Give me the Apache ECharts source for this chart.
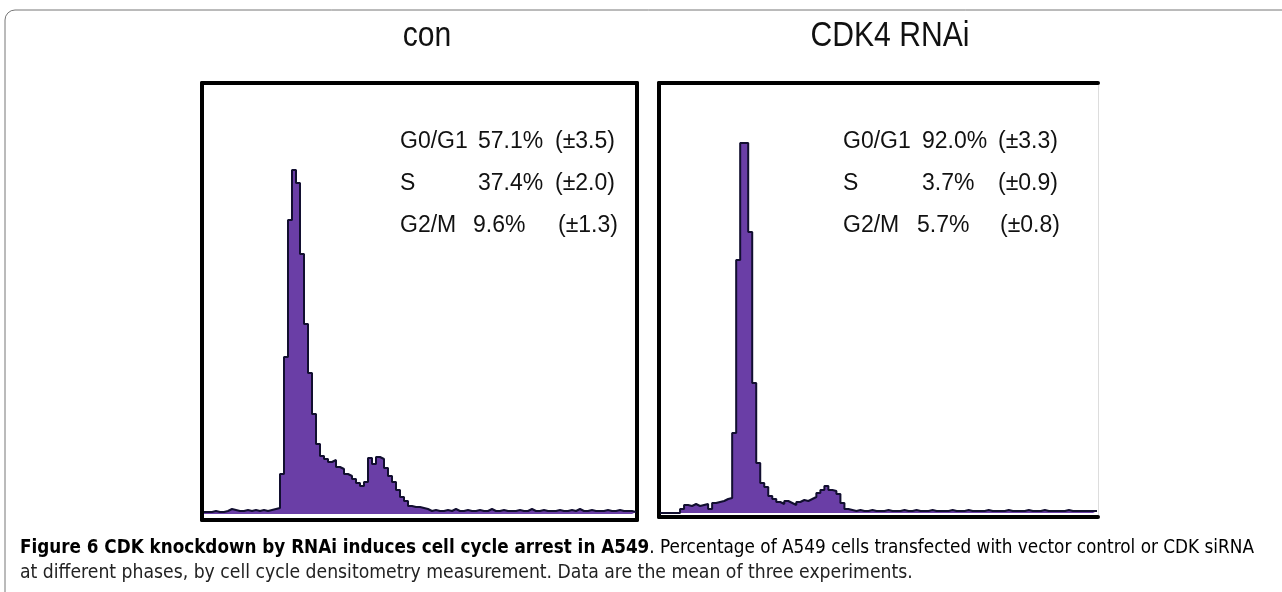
<!DOCTYPE html>
<html>
<head>
<meta charset="utf-8">
<script src="https://cdn.jsdelivr.net/npm/echarts@6/dist/echarts.min.js"></script>
<style>
html,body{margin:0;padding:0;background:#fff;}
#chart{width:1282px;height:592px;}
</style>
</head>
<body>
<div id="chart"></div>
<script>
// ---- data ----
var panelTitles = ['con', 'CDK4 RNAi'];
var phases = ['G0/G1', 'S', 'G2/M'];
var conPct = ['57.1%', '37.4%', '9.6%'];
var conSd = ['(±3.5)', '(±2.0)', '(±1.3)'];
var rnaiPct = ['92.0%', '3.7%', '5.7%'];
var rnaiSd = ['(±3.3)', '(±0.9)', '(±0.8)'];

// DNA-content histogram, events per channel bin (con)
var conCounts = [
  2,2,3,2,2,3,5,4,3,3,4,3,4,3,4,3,4,5,6,40,
  157,294,344,331,260,190,141,100,70,58,55,52,54,47,45,40,38,35,31,28,
  32,56,50,57,55,46,38,32,24,17,13,8,7,7,6,5,
  3,4,3,3,4,3,5,3,3,4,3,3,4,3,3,5,3,3,4,3,3,3,4,3,3,5,
  3,3,4,3,3,3,4,3,3,4,3,5,3,3,4,3,3,3,4,3,3,4,3,3,3,2
];
// DNA-content histogram, events per channel bin (CDK4 RNAi)
var rnaiCounts = [
  0,0,0,0,0,4,8,7,9,7,8,9,4,10,11,12,14,15,80,253,
  370,370,281,130,50,30,26,17,14,11,9,12,10,8,11,13,12,14,16,20,
  23,27,23,22,19,10,4,3,
  2,3,2,2,3,2,2,2,3,2,2,2,3,2,2,3,2,2,2,3,2,2,2,2,3,2,2,2,3,2,
  2,2,2,3,2,2,2,2,3,2,2,2,2,3,2,2,2,3,2,2,2,2,2,3,2,2,2,2,2,2,2
];
var captionBold = 'Figure 6 CDK knockdown by RNAi induces cell cycle arrest in A549';
var captionRest1 = '. Percentage of A549 cells transfected with vector control or CDK siRNA';
var captionLine2 = 'at different phases, by cell cycle densitometry measurement. Data are the mean of three experiments.';

// ---- layout ----
var chart = echarts.init(document.getElementById('chart'));
var grids = [
  {left: 202, top: 83, width: 435, height: 437},
  {left: 659, top: 83, width: 439, height: 434}
];
var xRanges = [[-0.5, 108.25], [-0.25, 109.25]];
var yRanges = [[-6, 431], [-4, 430]];
var fill = '#6a3ea6';
var edge = '#120f30';

function toPts(arr) {
  var pts = arr.map(function (v, i) { return [i, v]; });
  pts.push([arr.length, arr[arr.length - 1]]);
  return pts;
}

var xAxes = [], yAxes = [];
for (var g = 0; g < 2; g++) {
  var hid = {show: false};
  xAxes.push({gridIndex: g, type: 'value', min: xRanges[g][0], max: xRanges[g][1], position: 'bottom',
    axisLine: {show: true, onZero: false, lineStyle: {color: '#000', width: 4}}, axisTick: hid, axisLabel: hid, splitLine: hid});
  xAxes.push({gridIndex: g, type: 'value', min: xRanges[g][0], max: xRanges[g][1], position: 'top',
    axisLine: {show: true, onZero: false, lineStyle: {color: '#000', width: 4}}, axisTick: hid, axisLabel: hid, splitLine: hid});
  yAxes.push({gridIndex: g, type: 'value', min: yRanges[g][0], max: yRanges[g][1], position: 'left',
    axisLine: {show: true, onZero: false, lineStyle: {color: '#000', width: 4}}, axisTick: hid, axisLabel: hid, splitLine: hid});
  yAxes.push({gridIndex: g, type: 'value', min: yRanges[g][0], max: yRanges[g][1], position: 'right',
    axisLine: {show: true, onZero: false, lineStyle: g === 0 ? {color: '#000', width: 4} : {color: '#ddd', width: 1}},
    axisTick: hid, axisLabel: hid, splitLine: hid});
}

function histSeries(arr, g) {
  return {
    type: 'line', xAxisIndex: g * 2, yAxisIndex: g * 2, data: toPts(arr), step: 'end',
    symbol: 'none', silent: true, z: 1,
    lineStyle: {color: edge, width: 2},
    areaStyle: {color: fill, opacity: 1, origin: 0}
  };
}

var graphics = [];
// outer frame (top and left rules of the figure box)
graphics.push({type: 'polyline', shape: {points: [[5, 592], [5, 20]]}, style: {stroke: '#777', lineWidth: 1, fill: null}});
graphics.push({type: 'arc', shape: {cx: 15, cy: 20, r: 10, startAngle: Math.PI, endAngle: Math.PI * 1.5}, style: {stroke: '#777', lineWidth: 1, fill: null}});
graphics.push({type: 'polyline', shape: {points: [[15, 10], [1282, 10]]}, style: {stroke: '#777', lineWidth: 1, fill: null}});

var rowY = [142, 184, 226];
var colX = [[400, 478, 555], [843, 922, 998]];
var pctX = [[478, 478, 473], [922, 922, 917]];
var sdX = [[555, 555, 558], [998, 998, 1000]];
var pcts = [conPct, rnaiPct], sds = [conSd, rnaiSd];
var txtStyle = {fontFamily: 'Liberation Sans, Arial, sans-serif', fontSize: 23, fill: '#111', textVerticalAlign: 'middle'};
for (var p = 0; p < 2; p++) {
  for (var r = 0; r < 3; r++) {
    graphics.push({type: 'text', x: colX[p][0], y: rowY[r], style: Object.assign({text: phases[r]}, txtStyle)});
    graphics.push({type: 'text', x: pctX[p][r], y: rowY[r], style: Object.assign({text: pcts[p][r]}, txtStyle)});
    graphics.push({type: 'text', x: sdX[p][r], y: rowY[r], style: Object.assign({text: sds[p][r]}, txtStyle)});
  }
}
// panel titles (narrow, tall lettering)
var titleX = [427, 890];
for (var t = 0; t < 2; t++) {
  graphics.push({type: 'text', x: titleX[t], y: 36, scaleX: 0.86, scaleY: 1,
    style: {text: panelTitles[t], fontFamily: 'Liberation Sans, Arial, sans-serif', fontSize: 35, fill: '#111', textAlign: 'center', textVerticalAlign: 'middle'}});
}
// caption
var capFont = "'Liberation Sans Narrow', 'DejaVu Sans Condensed', sans-serif";
graphics.push({type: 'text', x: 20, y: 548, style: {
  text: '{b|' + captionBold + '}{n|' + captionRest1 + '}',
  textVerticalAlign: 'middle',
  rich: {
    b: {fontFamily: capFont, fontWeight: 'bold', fontSize: 18.7, color: '#111'},
    n: {fontFamily: capFont, fontSize: 18.8, color: '#222'}
  }
}});
graphics.push({type: 'text', x: 20, y: 573, style: {text: captionLine2, fontFamily: capFont, fontSize: 19.2, fill: '#222', textVerticalAlign: 'middle'}});

chart.setOption({
  animation: false,
  backgroundColor: '#fff',
  grid: grids,
  xAxis: xAxes,
  yAxis: yAxes,
  series: [histSeries(conCounts, 0), histSeries(rnaiCounts, 1)],
  graphic: graphics
});
</script>
</body>
</html>
